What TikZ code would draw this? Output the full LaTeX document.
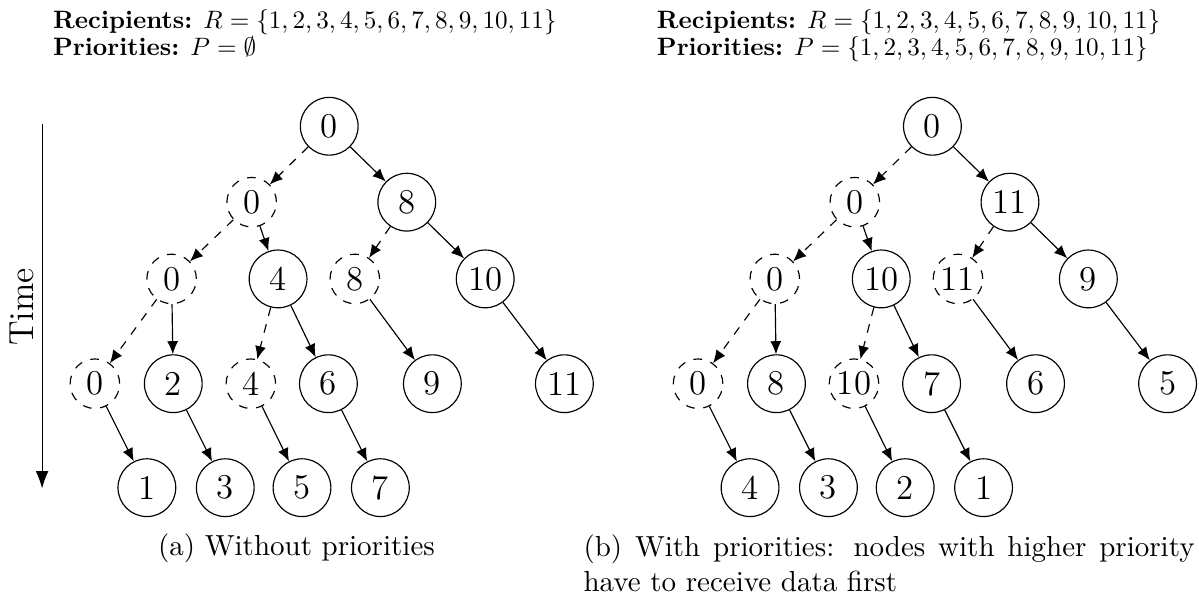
\documentclass[tikz,border=0pt]{standalone}
\usepackage{amsmath,amssymb}
\usepackage{tikz}
\usetikzlibrary{shapes,arrows.meta,positioning,calc}

\tikzset{
  peer/.style={circle, draw, minimum size=7mm, inner sep=0.5pt, font=\large},
  holder/.style={peer, dashed, minimum size=6mm},
  send/.style={-{Latex[length=4.5pt,width=3.8pt]}},
  keep/.style={send, dashed},
  hdr/.style={anchor=base west, scale=0.867, inner sep=0pt}
}

\begin{document}
\begin{tikzpicture}
\useasboundingbox (0,0) rectangle (14.531,-7.284);

% time axis
\coordinate (tstart) at (0.51,-1.50);
\coordinate (tend) at (0.51,-5.92);
\draw[-{Latex[length=6pt,width=4.4pt]}] (tstart) -- (tend);
\node[rotate=90, font=\large] (time) at (0.27,-3.72) {Time};

% (a) without priorities
\node[hdr] (arec) at (0.639,-0.345) {\textbf{Recipients:} $R=\{1,2,3,4,5,6,7,8,9,10,11\}$};
\node[hdr] (apri) at (0.639,-0.672) {\textbf{Priorities:} $P=\emptyset$};

\node[peer] (a0) at (3.99,-1.53) {0};
\node[holder] (a1) at (3.05,-2.45) {0};
\node[peer] (a2) at (4.93,-2.45) {8};
\node[holder] (a3) at (2.08,-3.38) {0};
\node[peer] (a4) at (3.37,-3.38) {4};
\node[holder] (a5) at (4.30,-3.38) {8};
\node[peer] (a6) at (5.88,-3.38) {10};
\node[holder] (a7) at (1.15,-4.65) {0};
\node[peer] (a8) at (2.10,-4.65) {2};
\node[holder] (a9) at (3.04,-4.65) {4};
\node[peer] (a10) at (3.98,-4.65) {6};
\node[peer] (a11) at (5.24,-4.65) {9};
\node[peer] (a12) at (6.84,-4.65) {11};
\node[peer] (a13) at (1.78,-5.91) {1};
\node[peer] (a14) at (2.73,-5.91) {3};
\node[peer] (a15) at (3.66,-5.91) {5};
\node[peer] (a16) at (4.61,-5.91) {7};

\draw[keep] (a0) -- (a1);
\draw[send] (a0) -- (a2);
\draw[keep] (a1) -- (a3);
\draw[send] (a1) -- (a4);
\draw[keep] (a2) -- (a5);
\draw[send] (a2) -- (a6);
\draw[keep] (a3) -- (a7);
\draw[send] (a3) -- (a8);
\draw[keep] (a4) -- (a9);
\draw[send] (a4) -- (a10);
\draw[send] (a5) -- (a11);
\draw[send] (a6) -- (a12);
\draw[send] (a7) -- (a13);
\draw[send] (a8) -- (a14);
\draw[send] (a9) -- (a15);
\draw[send] (a10) -- (a16);

\node[anchor=base] (acap) at (3.593,-6.738) {(a) Without priorities};

% (b) with priorities
\begin{scope}[xshift=7.31cm]
\node[hdr] (brec) at (0.646,-0.345) {\textbf{Recipients:} $R=\{1,2,3,4,5,6,7,8,9,10,11\}$};
\node[hdr] (bpri) at (0.646,-0.672) {\textbf{Priorities:} $P=\{1,2,3,4,5,6,7,8,9,10,11\}$};

\node[peer] (b0) at (3.99,-1.53) {0};
\node[holder] (b1) at (3.05,-2.45) {0};
\node[peer] (b2) at (4.93,-2.45) {11};
\node[holder] (b3) at (2.08,-3.38) {0};
\node[peer] (b4) at (3.37,-3.38) {10};
\node[holder] (b5) at (4.30,-3.38) {11};
\node[peer] (b6) at (5.88,-3.38) {9};
\node[holder] (b7) at (1.15,-4.65) {0};
\node[peer] (b8) at (2.10,-4.65) {8};
\node[holder] (b9) at (3.04,-4.65) {10};
\node[peer] (b10) at (3.98,-4.65) {7};
\node[peer] (b11) at (5.24,-4.65) {6};
\node[peer] (b12) at (6.84,-4.65) {5};
\node[peer] (b13) at (1.78,-5.91) {4};
\node[peer] (b14) at (2.73,-5.91) {3};
\node[peer] (b15) at (3.66,-5.91) {2};
\node[peer] (b16) at (4.61,-5.91) {1};

\draw[keep] (b0) -- (b1);
\draw[send] (b0) -- (b2);
\draw[keep] (b1) -- (b3);
\draw[send] (b1) -- (b4);
\draw[keep] (b2) -- (b5);
\draw[send] (b2) -- (b6);
\draw[keep] (b3) -- (b7);
\draw[send] (b3) -- (b8);
\draw[keep] (b4) -- (b9);
\draw[send] (b4) -- (b10);
\draw[send] (b5) -- (b11);
\draw[send] (b6) -- (b12);
\draw[send] (b7) -- (b13);
\draw[send] (b8) -- (b14);
\draw[send] (b9) -- (b15);
\draw[send] (b10) -- (b16);
\end{scope}

\node[anchor=north west, inner sep=0pt, text width=210.7pt, align=justify] (bcap) at (7.065,-6.475)
  {(b) With priorities: nodes with higher priority have to receive data first};
\end{tikzpicture}
\end{document}
